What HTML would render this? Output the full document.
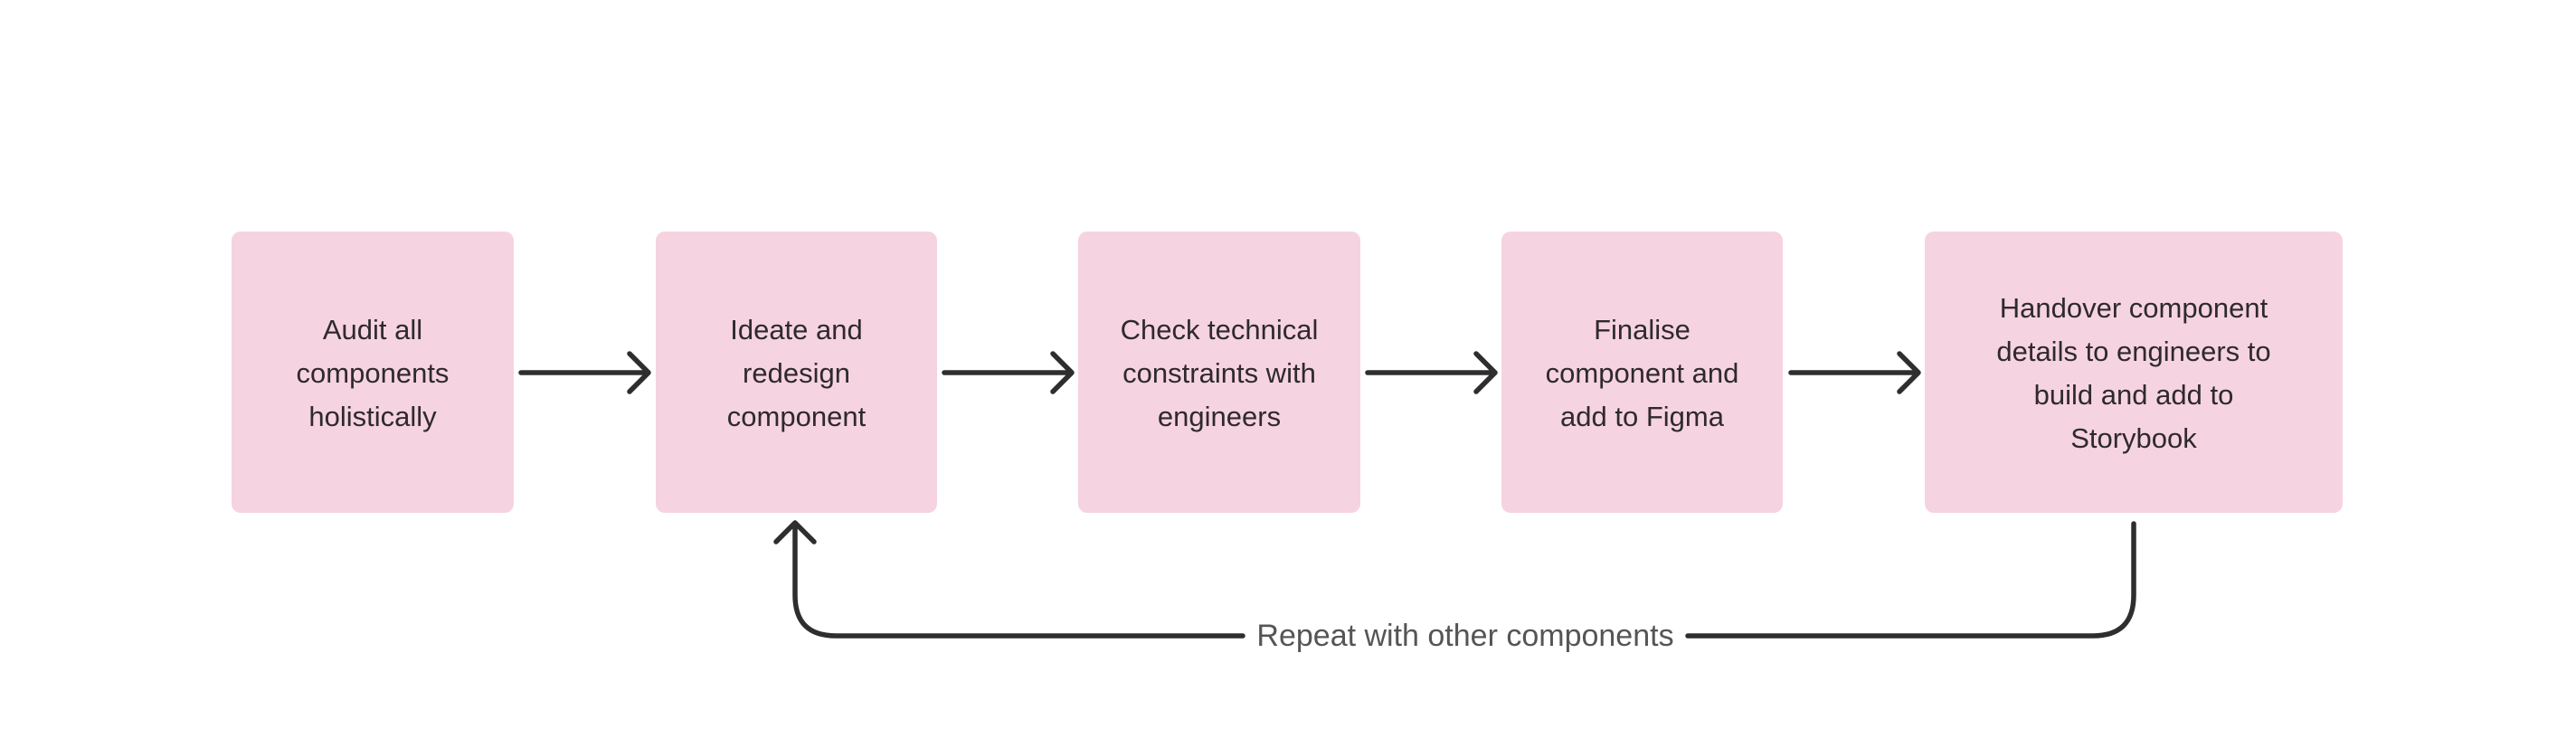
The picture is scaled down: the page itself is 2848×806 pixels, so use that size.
<!DOCTYPE html>
<html><head><meta charset="utf-8"><style>
html,body{margin:0;padding:0;background:#fff;}
body{width:2848px;height:806px;position:relative;overflow:hidden;font-family:"Liberation Sans",sans-serif;}
.b{position:absolute;top:256px;height:311px;background:#f6d3e1;border-radius:10px;display:flex;align-items:center;justify-content:center;text-align:center;color:#2e2a2c;font-size:31px;line-height:48px;padding-top:2px;box-sizing:border-box;}
svg{position:absolute;left:0;top:0;}
.lab{position:absolute;left:1370px;top:683px;width:500px;text-align:center;font-size:34px;color:#555;line-height:40px;}
.lab span{background:#fff;padding:0 12px;}
</style></head><body>
<div class="b" style="left:256px;width:312px;">Audit all<br>components<br>holistically</div>
<div class="b" style="left:725px;width:311px;">Ideate and<br>redesign<br>component</div>
<div class="b" style="left:1192px;width:312px;">Check technical<br>constraints with<br>engineers</div>
<div class="b" style="left:1660px;width:311px;">Finalise<br>component and<br>add to Figma</div>
<div class="b" style="left:2128px;width:462px;">Handover component<br>details to engineers to<br>build and add to<br>Storybook</div>
<svg width="2848" height="806" fill="none" stroke="#2e2e2e" stroke-width="5.5" stroke-linecap="round" stroke-linejoin="round">
<path d="M576 412H717M696 391L717 412L696 433"/>
<path d="M1044 412H1185M1164 391L1185 412L1164 433"/>
<path d="M1512 412H1653M1632 391L1653 412L1632 433"/>
<path d="M1980 412H2121M2100 391L2121 412L2100 433"/>
<path d="M2359 579V658Q2359 703 2314 703H1866M1374 703H924Q879 703 879 658V578M858 599L879 578L900 599"/>
</svg>
<div class="lab"><span>Repeat with other components</span></div>
</body></html>
